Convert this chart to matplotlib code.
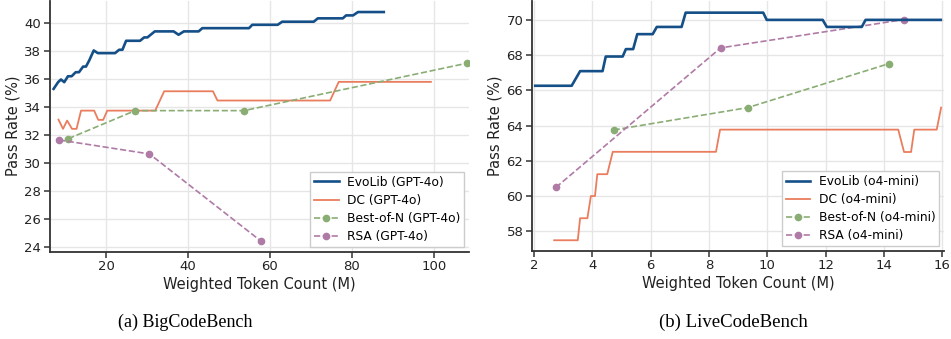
import matplotlib
matplotlib.use("Agg")
import matplotlib.pyplot as plt

# ---------------- BigCodeBench (GPT-4o) ----------------
bcb_evo_x = [7.2, 8.3, 9.0, 9.8, 10.7, 11.6, 12.6, 13.4, 14.4, 15.1, 15.9, 17.0, 18.0, 22.2, 23.2, 24.0,
             24.9, 28.3, 29.3, 30.1, 31.9, 36.5, 37.7, 39.0, 42.6, 43.5, 54.9, 55.7, 61.9, 63.0, 70.7,
             71.7, 77.8, 78.6, 80.3, 81.5, 87.8]
bcb_evo_y = [35.31, 35.79, 35.98, 35.79, 36.21, 36.21, 36.5, 36.5, 36.9, 36.9, 37.34, 38.05, 37.86, 37.86,
             38.1, 38.1, 38.74, 38.74, 38.98, 38.98, 39.41, 39.41, 39.17, 39.41, 39.41, 39.64, 39.64,
             39.88, 39.88, 40.1, 40.1, 40.34, 40.34, 40.55, 40.55, 40.79, 40.79]

bcb_dc_x = [8.4, 9.5, 10.5, 11.7, 12.8, 13.9, 17.1, 18.1, 19.3, 20.3, 32.0, 34.2, 46.1, 47.2, 74.7, 76.8, 99.3]
bcb_dc_y = [33.12, 32.46, 33.05, 32.46, 32.46, 33.76, 33.76, 33.1, 33.1, 33.76, 33.76, 35.14, 35.14,
            34.48, 34.48, 35.81, 35.81]

bcb_bon_x = [10.8, 27.1, 53.7, 108.1]
bcb_bon_y = [31.76, 33.76, 33.76, 37.14]

bcb_rsa_x = [8.5, 30.6, 57.8]
bcb_rsa_y = [31.67, 30.67, 24.46]

# ---------------- LiveCodeBench (o4-mini) ----------------
lcb_evo_x = [2.04, 3.29, 3.58, 4.35, 4.46, 5.04, 5.15, 5.40, 5.54, 6.07, 6.21, 7.06, 7.20, 9.86, 9.98,
             11.9, 12.04, 13.24, 13.37, 15.95]
lcb_evo_y = [66.26, 66.26, 67.09, 67.09, 67.92, 67.92, 68.34, 68.34, 69.19, 69.19, 69.6, 69.6, 70.41,
             70.41, 70.0, 70.0, 69.6, 69.6, 70.0, 70.0]

lcb_dc_x = [2.69, 3.50, 3.58, 3.83, 3.95, 4.09, 4.17, 4.51, 4.70, 8.24, 8.38, 14.49, 14.69, 14.93,
            15.04, 15.81, 15.96]
lcb_dc_y = [57.49, 57.49, 58.74, 58.74, 60.0, 60.0, 61.24, 61.24, 62.51, 62.51, 63.77, 63.77, 62.5,
            62.5, 63.77, 63.77, 65.02]

lcb_bon_x = [4.73, 9.33, 14.16]
lcb_bon_y = [63.75, 65.02, 67.51]

lcb_rsa_x = [2.75, 8.40, 14.69]
lcb_rsa_y = [60.49, 68.41, 70.02]

left_ticks_x = [20, 40, 60, 80, 100]
left_ticks_y = [24, 26, 28, 30, 32, 34, 36, 38, 40]
right_ticks_x = [2, 4, 6, 8, 10, 12, 14, 16]
right_ticks_y = [58, 60, 62, 64, 66, 68, 70]

C_EVO = "#154f88"
C_DC = "#ea7d5e"
C_BON = "#8aad74"
C_RSA = "#b07aa6"

plt.rcParams['font.family'] = ['DejaVu Sans']

fig = plt.figure(figsize=(9.51, 3.39), dpi=100)
ax1 = fig.add_axes([49.5 / 951, 1 - 251.7 / 339, 419.5 / 951, 251.7 / 339 - 0.002])
ax2 = fig.add_axes([531.7 / 951, 1 - 251.0 / 339, 412.6 / 951, 251.0 / 339 - 0.002])


def style(ax, model, evo, dc, bon, rsa, xlim, ylim, xt, yt):
    ax.plot(evo[0], evo[1], color=C_EVO, lw=1.9, label=f"EvoLib ({model})", zorder=4)
    ax.plot(dc[0], dc[1], color=C_DC, lw=1.3, label=f"DC ({model})", zorder=3)
    ax.plot(bon[0], bon[1], color=C_BON, lw=1.2, ls="--", marker="o", ms=4.5,
            label=f"Best-of-N ({model})", zorder=3)
    ax.plot(rsa[0], rsa[1], color=C_RSA, lw=1.2, ls="--", marker="o", ms=4.5,
            label=f"RSA ({model})", zorder=3)
    ax.set_xlim(*xlim)
    ax.set_ylim(*ylim)
    ax.set_xticks(xt)
    ax.set_yticks(yt)
    ax.grid(True, color="#e6e6e6", lw=1.0)
    ax.set_axisbelow(True)
    for s in ["top", "right"]:
        ax.spines[s].set_visible(False)
    for s in ["left", "bottom"]:
        ax.spines[s].set_color("#333333")
        ax.spines[s].set_linewidth(1.3)
    ax.tick_params(axis="both", labelsize=9.5, length=4, width=1.1, color="#333333",
                   labelcolor="#222222", pad=2)
    ax.set_xlabel("Weighted Token Count (M)", fontsize=10.5, labelpad=2.5, color="#222222")
    ax.set_ylabel("Pass Rate (%)", fontsize=10.5, labelpad=3, color="#222222")
    leg = ax.legend(loc="lower right", fontsize=8.8, fancybox=False, framealpha=1,
                    edgecolor="#cccccc", borderaxespad=0.4, handlelength=2.0,
                    labelspacing=0.42, borderpad=0.3, handletextpad=0.7)
    leg.get_frame().set_linewidth(1.0)


style(ax1, "GPT-4o", (bcb_evo_x, bcb_evo_y), (bcb_dc_x, bcb_dc_y), (bcb_bon_x, bcb_bon_y),
      (bcb_rsa_x, bcb_rsa_y), (6.2, 108.6), (23.7, 41.6), left_ticks_x, left_ticks_y)
style(ax2, "o4-mini", (lcb_evo_x, lcb_evo_y), (lcb_dc_x, lcb_dc_y), (lcb_bon_x, lcb_bon_y),
      (lcb_rsa_x, lcb_rsa_y), (1.92, 16.07), (56.88, 71.09), right_ticks_x, right_ticks_y)

fig.text(185 / 951, 1 - 322 / 339, "(a) BigCodeBench", ha="center", va="center",
         fontsize=13, family="Liberation Serif")
fig.text(733 / 951, 1 - 322 / 339, "(b) LiveCodeBench", ha="center", va="center",
         fontsize=13.5, family="Liberation Serif")

fig.savefig("out.png", dpi=100)
